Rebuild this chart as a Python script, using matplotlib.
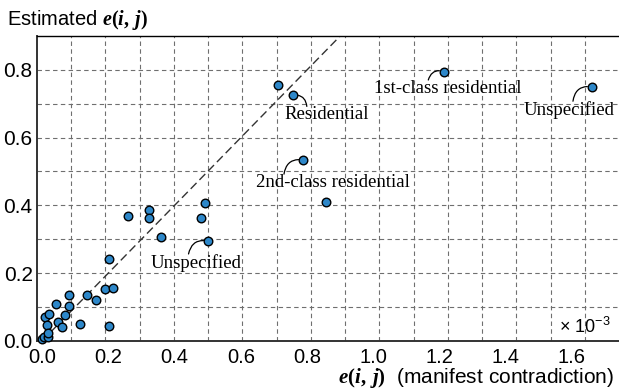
import numpy as np
import matplotlib
matplotlib.use("Agg")
import matplotlib.pyplot as plt

# data (x in units of 1e-3)
e_manifest = [0.000, 0.006, 0.019, 0.009, 0.021, 0.016, 0.019, 0.042, 0.049, 0.059,
              0.070, 0.080, 0.082, 0.115, 0.136, 0.163, 0.191, 0.214, 0.201, 0.201,
              0.258, 0.323, 0.323, 0.359, 0.479, 0.492, 0.502, 0.711, 0.757, 0.789,
              0.857, 1.214, 1.661]
e_estimated = [0.005, 0.012, 0.012, 0.070, 0.079, 0.047, 0.024, 0.109, 0.056, 0.041,
               0.075, 0.104, 0.136, 0.049, 0.136, 0.119, 0.154, 0.157, 0.243, 0.044,
               0.368, 0.386, 0.363, 0.306, 0.363, 0.407, 0.294, 0.755, 0.725, 0.534,
               0.410, 0.795, 0.750]
x_ticks = [0.0, 0.2, 0.4, 0.6, 0.8, 1.0, 1.2, 1.4, 1.6]
y_ticks = [0.0, 0.2, 0.4, 0.6, 0.8]

plt.rcParams['font.family'] = ['Liberation Sans', 'DejaVu Sans']
plt.rcParams['mathtext.fontset'] = 'custom'
plt.rcParams['mathtext.rm'] = 'Liberation Sans'
plt.rcParams['mathtext.bf'] = 'Liberation Serif:bold'
plt.rcParams['mathtext.bfit'] = 'Liberation Serif:bold:italic'

eij = r'$\mathbfit{e}\mathbf{(}\mathbfit{i}\mathbf{,}\ \mathbfit{j}\mathbf{)}$'

fig = plt.figure(figsize=(6.19, 3.91), dpi=100)
ax = fig.add_axes([0.0595, 0.1284, 0.9405, 0.7795])

xmin, xmax = -0.016, 1.742
ax.set_xlim(xmin, xmax)
ax.set_ylim(0, 0.9)

# grid: x is split in 17 equal cells, y every 0.1
ax.set_xticks(x_ticks)
ax.set_xticks(np.linspace(xmin, xmax, 18)[1:-1], minor=True)
ax.set_yticks(y_ticks)
ax.set_yticks([0.1, 0.3, 0.5, 0.7], minor=True)
ax.set_xticklabels([f'{v:.1f}' for v in x_ticks])
ax.set_yticklabels([f'{v:.1f}' for v in y_ticks])
ax.grid(False)
ax.grid(True, axis='x', which='minor', color='#6f6f6f', ls=(0, (4, 3)), lw=0.8)
ax.grid(True, axis='y', which='both', color='#6f6f6f', ls=(0, (4, 3)), lw=0.8)
ax.set_axisbelow(True)
ax.tick_params(axis='both', which='both', length=0)
ax.tick_params(axis='x', pad=5, labelsize=14.5)
ax.tick_params(axis='y', pad=3, labelsize=15)

for s in ['left', 'bottom']:
    ax.spines[s].set_linewidth(1.4)
    ax.spines[s].set_color('#333333')
ax.spines['top'].set_linewidth(1.0)
ax.spines['right'].set_visible(False)

# y = x reference line
ax.plot([0, 0.9], [0, 0.9], ls=(0, (6, 3)), color='#333333', lw=1.0, zorder=2)

ax.scatter(e_manifest, e_estimated, s=38, c='#2d87c9', edgecolors='black',
           linewidths=1.0, zorder=3, clip_on=False)

ann = dict(fontsize=13.5, family='Liberation Serif', ha='center', va='center')
def label(txt, i, xy_text, relx, rad):
    ax.annotate(txt, xy=(e_manifest[i], e_estimated[i]), xytext=xy_text,
                arrowprops=dict(arrowstyle='-', color='black', lw=0.9,
                                connectionstyle=f'arc3,rad={rad}',
                                relpos=(relx, 1.0), shrinkA=0, shrinkB=3.5,
                                patchA=None),
                **ann)

label('Residential', 28, (0.858, 0.667), 0.27, 0.5)
label('1st-class residential', 31, (1.224, 0.745), 0.37, -0.5)
label('Unspecified', 32, (1.592, 0.681), 0.54, -0.5)
label('2nd-class residential', 29, (0.879, 0.467), 0.18, -0.5)
label('Unspecified', 26, (0.464, 0.230), 0.42, -0.5)

ax.text(0.985, 0.045, r'× 10$^{-3}$', transform=ax.transAxes, ha='right',
        va='center', fontsize=13)

fig.text(7 / 619, 1 - 20 / 391, 'Estimated ' + eij, fontsize=14.5,
         ha='left', va='center')
fig.text(614 / 619, 1 - 378 / 391, eij + '  (manifest contradiction)',
         fontsize=15, ha='right', va='center')

fig.savefig('out.png', dpi=100)
